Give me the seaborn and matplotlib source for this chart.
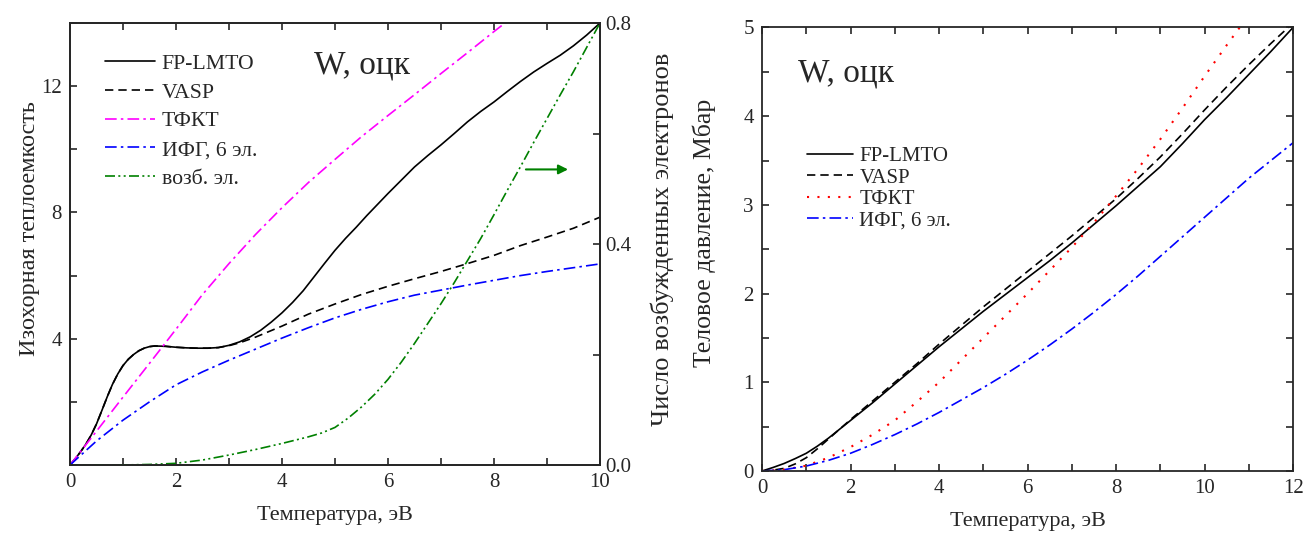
import seaborn as sns
import matplotlib.pyplot as plt
from matplotlib.ticker import MultipleLocator, FixedLocator, FormatStrFormatter

# left panel: heat capacity vs temperature (eV)
t_lmto = [0, 0.1, 0.2, 0.3, 0.4, 0.5, 0.6, 0.7, 0.8, 0.9, 1.0, 1.1, 1.2, 1.3, 1.4, 1.5, 1.6, 1.8,
          2.0, 2.2, 2.4, 2.6, 2.8, 3.0, 3.2, 3.4, 3.6, 3.8, 4.0, 4.2, 4.4, 4.6, 4.8, 5.0, 5.2, 5.4,
          5.6, 5.8, 6.0, 6.25, 6.5, 6.75, 7.0, 7.25, 7.5, 7.75, 8.0, 8.25, 8.5, 8.75, 9.0, 9.25,
          9.5, 9.75, 10.0]
c_lmto = [0, 0.2, 0.42, 0.66, 0.95, 1.3, 1.72, 2.15, 2.55, 2.88, 3.15, 3.35, 3.5, 3.62, 3.7,
          3.75, 3.77, 3.76, 3.73, 3.71, 3.7, 3.7, 3.72, 3.79, 3.9, 4.06, 4.27, 4.53, 4.82, 5.15,
          5.52, 5.95, 6.38, 6.8, 7.18, 7.53, 7.9, 8.25, 8.6, 9.02, 9.44, 9.8, 10.14, 10.5, 10.87,
          11.2, 11.5, 11.83, 12.15, 12.45, 12.72, 12.98, 13.28, 13.62, 14.0]
t_vasp = [0, 0.1, 0.2, 0.3, 0.4, 0.5, 0.6, 0.7, 0.8, 0.9, 1.0, 1.1, 1.2, 1.3, 1.4, 1.5, 1.6, 1.8,
          2.0, 2.2, 2.4, 2.6, 2.8, 3.0, 3.2, 3.5, 4.0, 4.5, 5.0, 5.5, 6.0, 6.5, 7.0, 7.5, 8.0,
          8.5, 9.0, 9.5, 10.0]
c_vasp = [0, 0.2, 0.42, 0.66, 0.95, 1.3, 1.72, 2.15, 2.55, 2.88, 3.15, 3.35, 3.5, 3.62, 3.7,
          3.75, 3.77, 3.76, 3.73, 3.71, 3.7, 3.7, 3.72, 3.78, 3.87, 4.05, 4.4, 4.78, 5.1, 5.4,
          5.66, 5.9, 6.13, 6.38, 6.64, 6.95, 7.22, 7.5, 7.85]
t_tfkt = [0, 0.5, 1.0, 1.5, 2.0, 2.5, 3.0, 3.5, 4.0, 4.5, 5.0, 5.5, 6.0, 6.5, 7.0, 7.5, 8.0, 8.4]
c_tfkt = [0, 1.07, 2.15, 3.22, 4.3, 5.4, 6.38, 7.3, 8.15, 8.95, 9.68, 10.4, 11.07, 11.73, 12.4,
          13.06, 13.73, 14.25]
t_ifg = [0, 0.5, 1.0, 1.5, 2.0, 2.5, 3.0, 3.5, 4.0, 4.5, 5.0, 5.5, 6.0, 6.5, 7.0, 7.5, 8.0, 8.5,
         9.0, 9.5, 10.0]
c_ifg = [0, 0.76, 1.42, 2.0, 2.54, 2.95, 3.32, 3.67, 4.02, 4.35, 4.66, 4.93, 5.17, 5.38, 5.54,
         5.7, 5.85, 6.0, 6.13, 6.25, 6.37]
t_exc = [0, 1.0, 1.5, 2.0, 2.5, 3.0, 3.5, 4.0, 4.5, 4.75, 5.0, 5.25, 5.5, 5.75, 6.0, 6.25, 6.5,
         6.75, 7.0, 7.25, 7.5, 7.75, 8.0, 8.25, 8.5, 8.75, 9.0, 9.25, 9.5, 9.75, 10.0]
n_exc = [0, 0, 0.001, 0.003, 0.009, 0.018, 0.028, 0.039, 0.051, 0.058, 0.068, 0.085, 0.105,
         0.128, 0.155, 0.186, 0.22, 0.256, 0.292, 0.33, 0.37, 0.41, 0.453, 0.497, 0.54, 0.584,
         0.627, 0.67, 0.712, 0.756, 0.8]

# right panel: thermal pressure (Mbar) vs temperature (eV)
tp_lmto = [0, 0.25, 0.5, 0.75, 1, 1.25, 1.5, 1.75, 2, 2.5, 3, 3.5, 4, 4.5, 5, 5.5, 6, 6.5, 7,
           7.5, 8, 8.5, 9, 9.5, 10, 10.5, 11, 11.5, 12]
p_lmto = [0, 0.04, 0.085, 0.14, 0.2, 0.28, 0.37, 0.47, 0.57, 0.77, 0.98, 1.19, 1.4, 1.6, 1.8,
          1.99, 2.18, 2.37, 2.57, 2.78, 2.99, 3.21, 3.43, 3.69, 3.96, 4.21, 4.47, 4.73, 5.0]
tp_vasp = [0, 0.25, 0.5, 0.75, 1, 1.25, 1.5, 1.75, 2, 2.5, 3, 3.5, 4, 4.5, 5, 5.5, 6, 6.5, 7,
           7.5, 8, 8.5, 9, 9.5, 10, 10.5, 11, 11.5, 12]
p_vasp = [0, 0.01, 0.03, 0.08, 0.15, 0.25, 0.36, 0.47, 0.58, 0.79, 1.0, 1.21, 1.43, 1.64, 1.85,
          2.05, 2.25, 2.45, 2.65, 2.86, 3.07, 3.3, 3.54, 3.8, 4.07, 4.33, 4.58, 4.82, 5.05]
tp_tfkt = [0, 0.5, 1, 1.5, 2, 2.5, 3, 3.5, 4, 4.5, 5, 5.5, 6, 6.5, 7, 7.5, 8, 8.5, 9, 9.5, 10,
           10.5, 11]
p_tfkt = [0, 0.015, 0.06, 0.15, 0.27, 0.41, 0.57, 0.78, 1.0, 1.25, 1.5, 1.75, 2.0, 2.26, 2.52,
          2.8, 3.1, 3.41, 3.74, 4.09, 4.45, 4.8, 5.14]
tp_ifg = [0, 0.5, 1, 1.5, 2, 2.5, 3, 3.5, 4, 4.5, 5, 5.5, 6, 6.5, 7, 7.5, 8, 8.5, 9, 9.5, 10,
          10.5, 11, 11.5, 12]
p_ifg = [0, 0.015, 0.056, 0.12, 0.2, 0.3, 0.41, 0.53, 0.66, 0.8, 0.94, 1.09, 1.25, 1.42, 1.6,
         1.79, 1.99, 2.2, 2.42, 2.64, 2.86, 3.08, 3.3, 3.5, 3.7]

sns.set_style('ticks')
plt.rcParams['font.family'] = ['Liberation Serif', 'DejaVu Serif']

fig = plt.figure(figsize=(13.06, 5.37), dpi=100)
ax1 = fig.add_axes([0.0536, 0.1341, 0.4058, 0.823])
ax2 = ax1.twinx()
ax3 = fig.add_axes([0.5835, 0.1229, 0.4066, 0.826])

lw = 1.2
dashdot = (0, (7, 2.5, 1.5, 2.5))
sns.lineplot(x=t_lmto, y=c_lmto, ax=ax1, color='black', lw=lw, label='FP-LMTO', sort=False)
sns.lineplot(x=t_vasp, y=c_vasp, ax=ax1, color='black', lw=lw, linestyle=(0, (5, 3)),
             label='VASP', sort=False)
sns.lineplot(x=t_tfkt, y=c_tfkt, ax=ax1, color='magenta', lw=lw, linestyle=dashdot,
             label='ТФКТ', sort=False)
sns.lineplot(x=t_ifg, y=c_ifg, ax=ax1, color='blue', lw=lw, linestyle=dashdot,
             label='ИФГ, 6 эл.', sort=False)
sns.lineplot(x=t_exc, y=n_exc, ax=ax2, color='green', lw=lw,
             linestyle=(0, (6, 2, 1.2, 2, 1.2, 2)), label='возб. эл.', sort=False)

ax1.set_xlim(0, 10)
ax1.set_ylim(0, 14)
ax2.set_ylim(0, 0.8)
ax1.xaxis.set_major_locator(MultipleLocator(2))
ax1.xaxis.set_minor_locator(MultipleLocator(1))
ax1.yaxis.set_major_locator(FixedLocator([0, 4, 8, 12]))
ax1.set_yticklabels(['', '4', '8', '12'])
ax1.yaxis.set_minor_locator(MultipleLocator(2))
ax2.yaxis.set_major_locator(MultipleLocator(0.4))
ax2.yaxis.set_minor_locator(MultipleLocator(0.2))
ax2.yaxis.set_major_formatter(FormatStrFormatter('%.1f'))

for a in (ax1, ax2, ax3):
    for s in a.spines.values():
        s.set_linewidth(1.3)
        s.set_visible(True)
ax1.tick_params(which='both', direction='in', length=5, width=1.2, top=True, labelsize=15, pad=6)
ax2.tick_params(which='both', direction='in', length=5, width=1.2, labelsize=15, pad=4)
ax3.tick_params(which='both', direction='in', length=5, width=1.2, top=True, right=True,
                labelsize=15, pad=6)

ax1.set_xlabel('Температура, эВ', fontsize=16, labelpad=10)
ax1.set_ylabel('Изохорная теплоемкость', fontsize=17.5)
ax1.yaxis.set_label_coords(-0.057, 0.534)
ax2.set_ylabel('Число возбужденных электронов', fontsize=19)
ax2.yaxis.set_label_coords(1.095, 0.511)

h1, l1 = ax1.get_legend_handles_labels()
h2, l2 = ax2.get_legend_handles_labels()
if ax2.get_legend():
    ax2.get_legend().remove()
ax1.legend(h1 + h2, l1 + l2, loc='upper left', bbox_to_anchor=(0.066, 0.931), frameon=False,
           fontsize=15.7, handlelength=2.3, handletextpad=0.3, labelspacing=0.39,
           borderpad=0, borderaxespad=0)
ax1.text(0.46, 0.886, 'W, оцк', transform=ax1.transAxes, fontsize=24, va='baseline')
ax2.annotate('', xy=(9.45, 0.535), xytext=(8.55, 0.535),
             arrowprops=dict(arrowstyle='-|>', color='green', lw=1.5, mutation_scale=14))

# right panel
sns.lineplot(x=tp_lmto, y=p_lmto, ax=ax3, color='black', lw=lw, label='FP-LMTO', sort=False)
sns.lineplot(x=tp_vasp, y=p_vasp, ax=ax3, color='black', lw=lw, linestyle=(0, (5, 3)),
             label='VASP', sort=False)
sns.lineplot(x=tp_tfkt, y=p_tfkt, ax=ax3, color='red', lw=1.5, linestyle=(0, (1, 4)),
             label='ТФКТ', sort=False)
sns.lineplot(x=tp_ifg, y=p_ifg, ax=ax3, color='blue', lw=lw, linestyle=dashdot,
             label='ИФГ, 6 эл.', sort=False)
ax3.set_xlim(0, 12)
ax3.set_ylim(0, 5)
ax3.xaxis.set_major_locator(MultipleLocator(2))
ax3.xaxis.set_minor_locator(MultipleLocator(1))
ax3.yaxis.set_major_locator(MultipleLocator(1))
ax3.yaxis.set_minor_locator(MultipleLocator(0.5))
ax3.set_xlabel('Температура, эВ', fontsize=16, labelpad=10)
ax3.set_ylabel('Теловое давление, Мбар', fontsize=18.5)
ax3.yaxis.set_label_coords(-0.087, 0.537)
ax3.legend(loc='upper left', bbox_to_anchor=(0.085, 0.731), frameon=False, fontsize=15,
           handlelength=2.2, handletextpad=0.3, labelspacing=0.08, borderpad=0, borderaxespad=0)
ax3.text(0.068, 0.878, 'W, оцк', transform=ax3.transAxes, fontsize=24, va='baseline')

fig.savefig('out.png', dpi=100)
